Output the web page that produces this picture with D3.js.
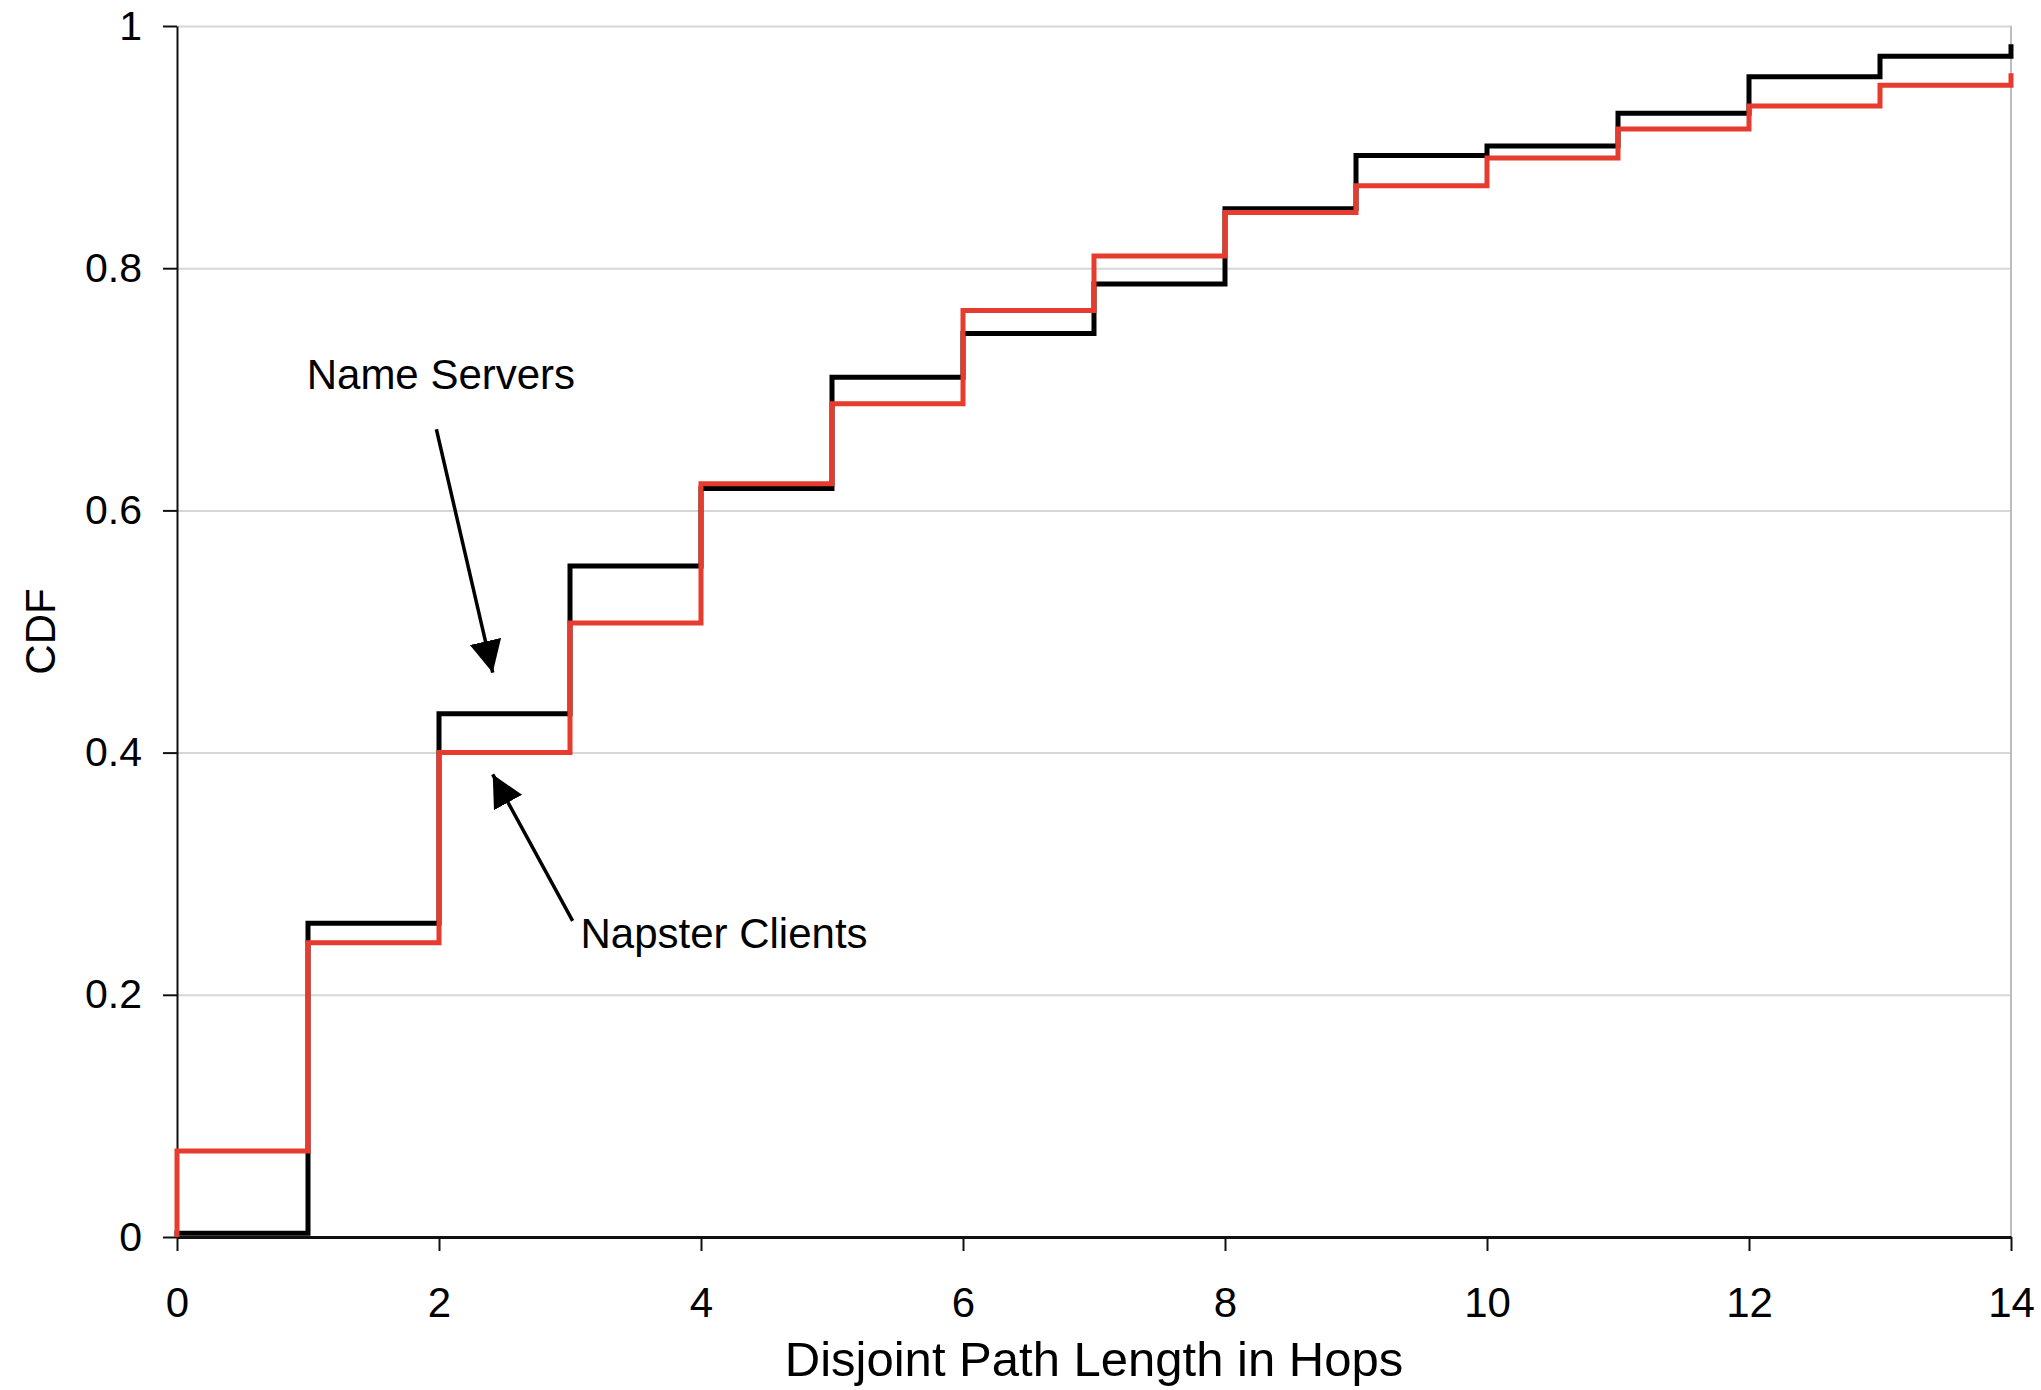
<!DOCTYPE html>
<html>
<head>
<meta charset="utf-8">
<script src="https://cdnjs.cloudflare.com/ajax/libs/d3/7.8.5/d3.min.js"></script>
<style>
	body { margin: 0; background: #fff; }
	#chart text { font-family: "Liberation Sans", Arial, Helvetica, sans-serif; fill: #000; }
	.axis path, .axis line { stroke: #111; }
	.grid line { stroke: #d6d6d6; stroke-width: 2px; }
	.grid path { display: none; }
</style>
</head>
<body>
<div id="chart"></div>
<script>
// values
var hops = [0, 1, 2, 3, 4, 5, 6, 7, 8, 9, 10, 11, 12, 13, 14];
var nameServers = [0.003, 0.259, 0.432, 0.554, 0.618, 0.710, 0.746, 0.787, 0.849, 0.893, 0.901, 0.928, 0.958, 0.975, 0.985];
var napsterClients = [0.071, 0.243, 0.400, 0.507, 0.622, 0.688, 0.765, 0.810, 0.846, 0.868, 0.891, 0.915, 0.934, 0.951, 0.961];

var xTicks = [0, 2, 4, 6, 8, 10, 12, 14];
var yTicks = [0, 0.2, 0.4, 0.6, 0.8, 1];
var yTickLabels = ["0", "0.2", "0.4", "0.6", "0.8", "1"];

// annotations: label anchor and arrow (from -> to), in data units
var annotations = [
	{ text: "Name Servers", tx: 0.99, ty: 0.700, from: [1.98, 0.667], to: [2.41, 0.466] },
	{ text: "Napster Clients", tx: 3.08, ty: 0.239, from: [3.02, 0.261], to: [2.41, 0.382] }
];

var ext_width = 2041;
var ext_height = 1390;
var margin = { top: 26, right: 30, bottom: 153, left: 177 };
var width = ext_width - margin.left - margin.right;
var height = ext_height - margin.top - margin.bottom;

var x = d3.scaleLinear().domain([0, 14]).range([0, width]);
var y = d3.scaleLinear().domain([0, 1]).range([height, 0]);

var svg = d3.select("#chart").append("svg")
	.attr("width", ext_width)
	.attr("height", ext_height);

svg.append("defs").append("marker")
	.attr("id", "head")
	.attr("viewBox", "0 0 10 10")
	.attr("refX", 10)
	.attr("refY", 5)
	.attr("markerUnits", "userSpaceOnUse")
	.attr("markerWidth", 32)
	.attr("markerHeight", 34)
	.attr("orient", "auto")
	.append("path")
	.attr("d", "M0,0L10,5L0,10Z")
	.attr("fill", "#000");

var g = svg.append("g")
	.attr("transform", "translate(" + margin.left + "," + margin.top + ")");

// horizontal grid lines
g.append("g")
	.attr("class", "grid")
	.call(d3.axisRight(y).tickValues(yTicks.slice(1)).tickSize(width).tickFormat(""));

// right border
g.append("line")
	.attr("x1", width).attr("x2", width)
	.attr("y1", 0).attr("y2", height)
	.attr("stroke", "#bdbdbd")
	.attr("stroke-width", 2);

// Y Axis
var yAxis = g.append("g")
	.attr("class", "axis axis--y")
	.call(d3.axisLeft(y).tickValues(yTicks).tickSizeInner(14).tickSizeOuter(0).tickPadding(21)
		.tickFormat(function (d, i) { return yTickLabels[i]; }));
yAxis.select(".domain").attr("stroke-width", 2);
yAxis.selectAll(".tick line").attr("stroke", "#999").attr("stroke-width", 2);
yAxis.selectAll("text").style("font-size", "41px");

// X Axis
var xAxis = g.append("g")
	.attr("class", "axis axis--x")
	.attr("transform", "translate(0," + height + ")")
	.call(d3.axisBottom(x).tickValues(xTicks).tickSizeInner(14).tickSizeOuter(0).tickPadding(36));
xAxis.select(".domain").attr("stroke-width", 3).attr("stroke", "#222");
xAxis.selectAll(".tick line").attr("stroke", "#777").attr("stroke-width", 2);
xAxis.selectAll("text").style("font-size", "42px");

g.append("text")
	.attr("x", width / 2)
	.attr("y", height + 139)
	.style("text-anchor", "middle")
	.style("font-size", "49px")
	.text("Disjoint Path Length in Hops");

g.append("text")
	.attr("transform", "translate(" + (55 - margin.left) + "," + (height / 2) + ") rotate(-90)")
	.style("text-anchor", "middle")
	.style("font-size", "42px")
	.text("CDF");

// step lines
var line = d3.line()
	.x(function (d) { return x(d[0]); })
	.y(function (d) { return y(d[1]); })
	.curve(d3.curveStepAfter);

function stepPoints(values) {
	return [[hops[0], 0]].concat(hops.map(function (h, i) { return [h, values[i]]; }));
}

g.append("path")
	.datum(stepPoints(nameServers))
	.attr("fill", "none")
	.attr("stroke", "#000")
	.attr("stroke-width", 5)
	.attr("d", line);

g.append("path")
	.datum(stepPoints(napsterClients))
	.attr("fill", "none")
	.attr("stroke", "#e63b2e")
	.attr("stroke-width", 5)
	.attr("d", line);

// annotations
annotations.forEach(function (a) {
	g.append("line")
		.attr("x1", x(a.from[0])).attr("y1", y(a.from[1]))
		.attr("x2", x(a.to[0])).attr("y2", y(a.to[1]))
		.attr("stroke", "#000")
		.attr("stroke-width", 3.5)
		.attr("marker-end", "url(#head)");
	g.append("text")
		.attr("x", x(a.tx))
		.attr("y", y(a.ty))
		.style("font-size", "42px")
		.text(a.text);
});
</script>
</body>
</html>
